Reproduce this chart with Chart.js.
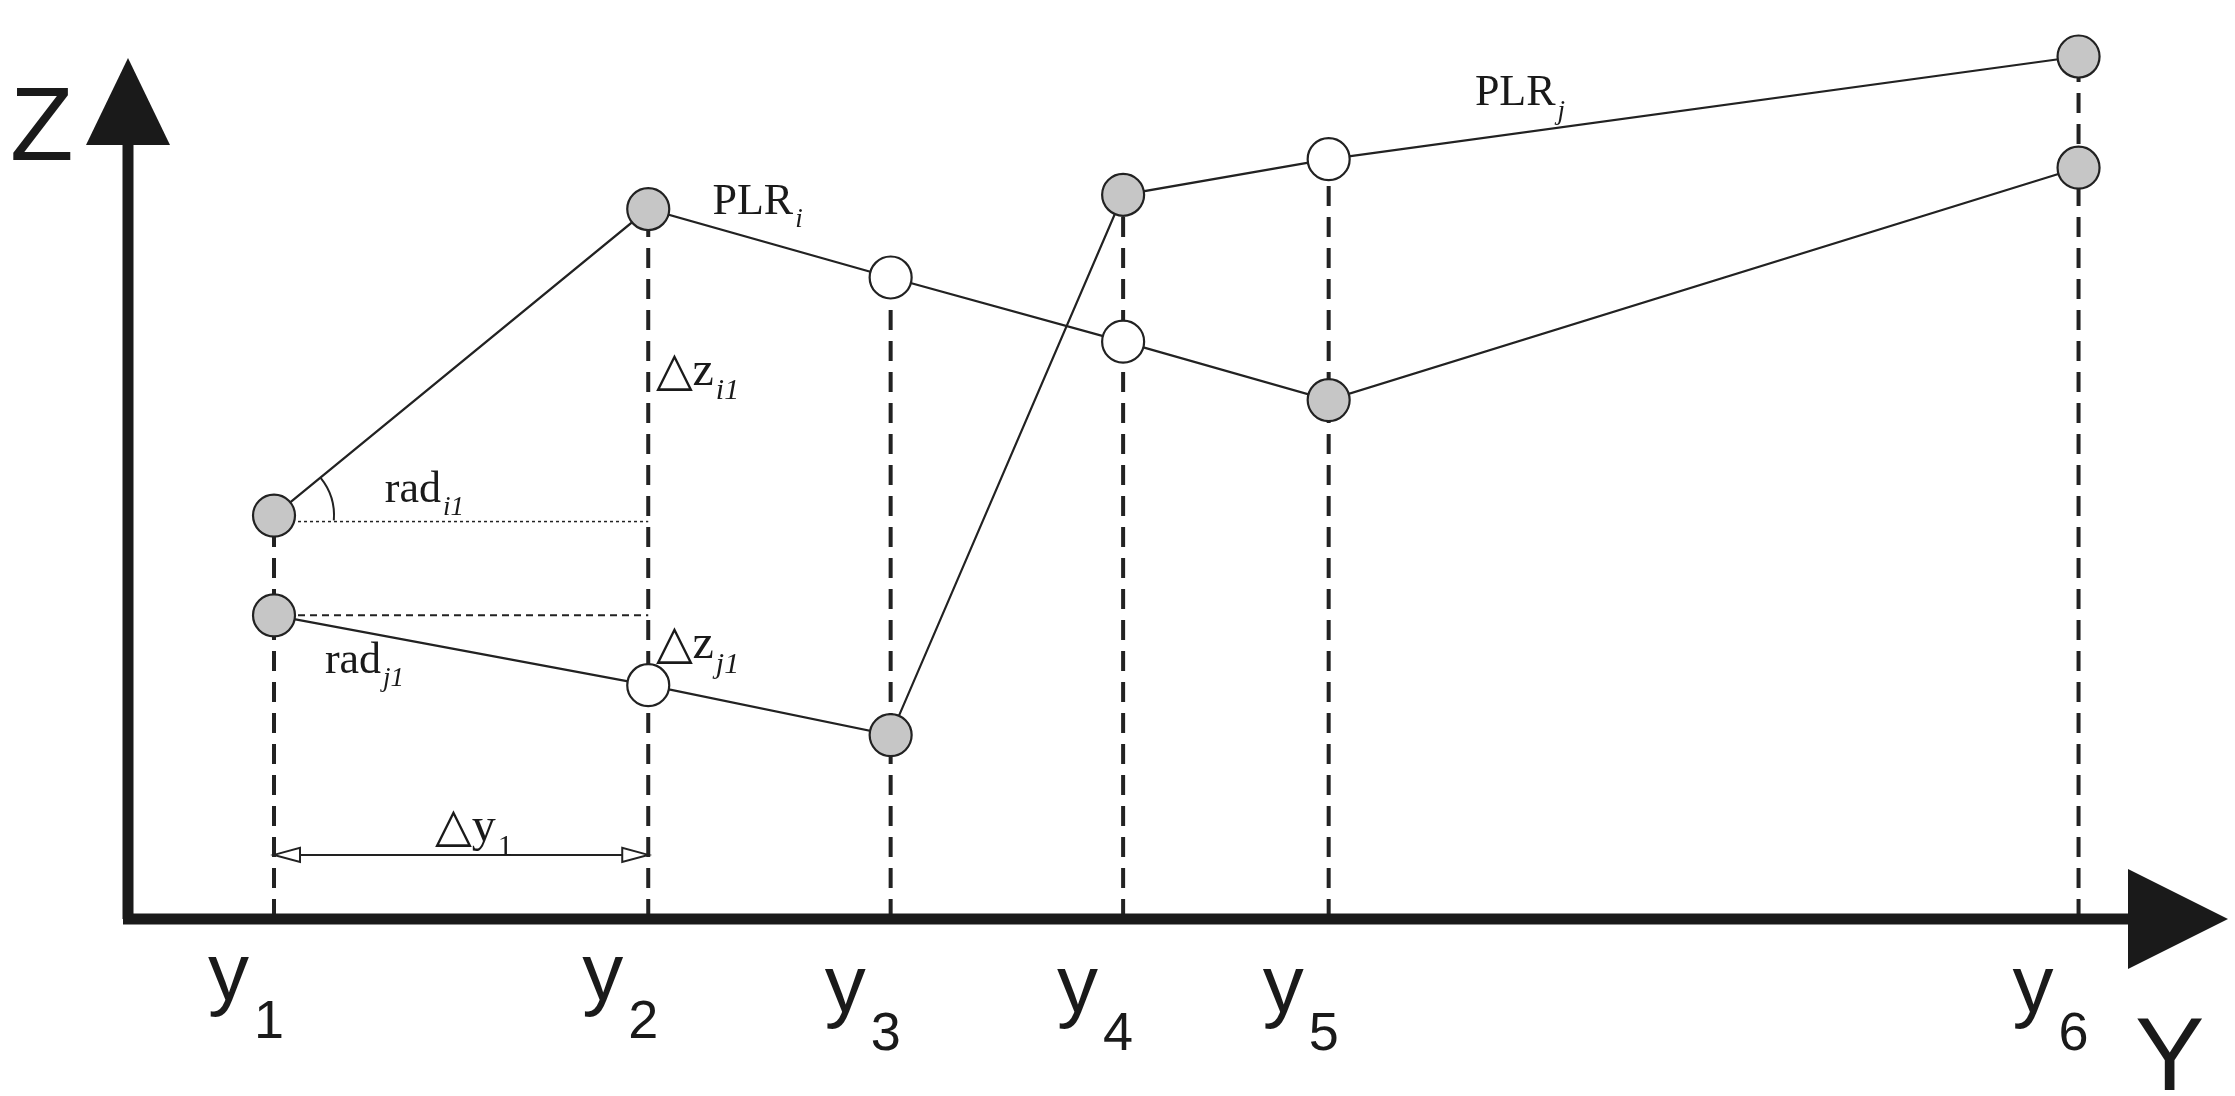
<!DOCTYPE html>
<html>
<head>
<meta charset="utf-8">
<script src="https://cdn.jsdelivr.net/npm/chart.js@4.4.0/dist/chart.umd.min.js"></script>
<style>
html, body { margin: 0; padding: 0; background: #fff; }
#wrap { width: 2235px; height: 1096px; }
</style>
</head>
<body>
<div id="wrap"><canvas id="myChart"></canvas></div>
<script>
// positions along Y (horizontal) and Z (vertical)
let yPos = [103, 367, 538, 702, 847, 1376];
let tickNames = ['1', '2', '3', '4', '5', '6'];
let zPlrI = [283, 498, 450, 405, 364, 527];
let zPlrJ = [213, 164, 129, 508, 533, 605];
let fillI = ['g', 'g', 'w', 'w', 'g', 'g'];
let fillJ = ['g', 'w', 'g', 'g', 'w', 'g'];

const grey = '#c6c6c6';
const toColor = f => f == 'g' ? grey : '#ffffff';

const S = 1.425; // figure units -> page px

function subText(ctx, base, sub, x, y, size, font, italicSub) {
    ctx.font = size + 'px ' + font;
    ctx.fillText(base, x, y);
    let w = ctx.measureText(base).width;
    ctx.font = (italicSub ? 'italic ' : '') + Math.round(size * 0.62) + 'px ' + font;
    ctx.fillText(sub, x + w + 2, y + size * 0.3);
}

const diagram = {
    id: 'diagram',
    beforeDatasetsDraw(chart) {
        const ctx = chart.ctx;
        const xs = chart.scales.x, zs = chart.scales.y;
        const X = v => xs.getPixelForValue(v);
        const Z = v => zs.getPixelForValue(v);
        const ox = X(0), oy = Z(0);
        ctx.save();
        ctx.strokeStyle = '#222';
        // dashed verticals to upper point
        ctx.lineWidth = 4;
        ctx.setLineDash([20, 11]);
        yPos.forEach((x, i) => {
            ctx.beginPath();
            ctx.moveTo(X(x), oy);
            ctx.lineTo(X(x), Z(Math.max(zPlrI[i], zPlrJ[i])));
            ctx.stroke();
        });
        // dotted horizontals
        ctx.lineWidth = 1.5;
        ctx.setLineDash([3, 3]);
        ctx.beginPath();
        ctx.moveTo(X(yPos[0]), Z(zPlrI[0]) + 6);
        ctx.lineTo(X(yPos[1]), Z(zPlrI[0]) + 6);
        ctx.stroke();
        ctx.lineWidth = 2;
        ctx.setLineDash([7, 5]);
        ctx.beginPath();
        ctx.moveTo(X(yPos[0]), Z(zPlrJ[0]));
        ctx.lineTo(X(yPos[1]), Z(zPlrJ[0]));
        ctx.stroke();
        ctx.setLineDash([]);
        // angle arc
        ctx.lineWidth = 2;
        ctx.beginPath();
        ctx.arc(X(yPos[0]), Z(zPlrI[0]), 60, -0.68, 0.08);
        ctx.stroke();
        // delta y arrow
        let ay = oy - 45 * S;
        ctx.lineWidth = 2;
        ctx.beginPath();
        ctx.moveTo(X(yPos[0]), ay);
        ctx.lineTo(X(yPos[1]), ay);
        ctx.stroke();
        [[X(yPos[0]), 1], [X(yPos[1]), -1]].forEach(([px, d]) => {
            ctx.beginPath();
            ctx.moveTo(px, ay);
            ctx.lineTo(px + d * 26, ay - 7);
            ctx.lineTo(px + d * 26, ay + 7);
            ctx.closePath();
            ctx.fillStyle = '#fff';
            ctx.fill();
            ctx.stroke();
        });
        // axes
        ctx.fillStyle = '#1a1a1a';
        ctx.strokeStyle = '#1a1a1a';
        ctx.lineWidth = 11;
        ctx.beginPath();
        ctx.moveTo(ox, oy);
        ctx.lineTo(ox, 130);
        ctx.moveTo(ox - 5, oy);
        ctx.lineTo(2135, oy);
        ctx.stroke();
        ctx.beginPath();
        ctx.moveTo(ox, 58);
        ctx.lineTo(ox - 42, 145);
        ctx.lineTo(ox + 42, 145);
        ctx.closePath();
        ctx.fill();
        ctx.beginPath();
        ctx.moveTo(2228, oy);
        ctx.lineTo(2128, oy - 50);
        ctx.lineTo(2128, oy + 50);
        ctx.closePath();
        ctx.fill();
        // axis names and ticks
        ctx.textBaseline = 'alphabetic';
        ctx.font = '104px Liberation Sans';
        ctx.fillText('Z', 10, 160);
        ctx.fillText('Y', 2135, 1090);
        yPos.forEach((x, i) => {
            let tx = X(x) - 66;
            let ty = i == 0 || i == 1 ? 1000 : 1012;
            ctx.font = '82px Liberation Sans';
            ctx.fillText('y', tx, ty);
            ctx.font = '54px Liberation Sans';
            ctx.fillText(tickNames[i], tx + 46, ty + 38);
        });
        // annotations
        const serif = 'Liberation Serif';
        subText(ctx, 'PLR', 'i', 500 * S, 150 * S, 44, serif, true);
        subText(ctx, 'PLR', 'j', 1035 * S, 74 * S, 44, serif, true);
        subText(ctx, '△z', 'i1', 460 * S, 270 * S, 48, serif, true);
        subText(ctx, '△z', 'j1', 460 * S, 462 * S, 48, serif, true);
        subText(ctx, 'rad', 'i1', 270 * S, 352 * S, 44, serif, true);
        subText(ctx, 'rad', 'j1', 228 * S, 472 * S, 44, serif, true);
        subText(ctx, '△y', '1', 305 * S, 590 * S, 48, serif, false);
        ctx.restore();
    }
};

const series = (z, f) => ({
    data: yPos.map((x, i) => ({ x: x, y: z[i] })),
    showLine: true,
    borderColor: '#222',
    borderWidth: 2.2,
    pointRadius: 21,
    pointBorderWidth: 2.2,
    pointBorderColor: '#222',
    pointBackgroundColor: f.map(toColor),
});

new Chart(document.getElementById('myChart'), {
    type: 'scatter',
    data: { datasets: [series(zPlrI, fillI), series(zPlrJ, fillJ)] },
    options: {
        responsive: true,
        maintainAspectRatio: false,
        animation: false,
        layout: { padding: { left: 128, right: 12, top: 28, bottom: 177 } },
        plugins: { legend: { display: false }, tooltip: { enabled: false } },
        scales: {
            x: { type: 'linear', min: 0, max: 1470, display: false },
            y: { type: 'linear', min: 0, max: 625, display: false }
        }
    },
    plugins: [diagram]
});
</script>
</body>
</html>
